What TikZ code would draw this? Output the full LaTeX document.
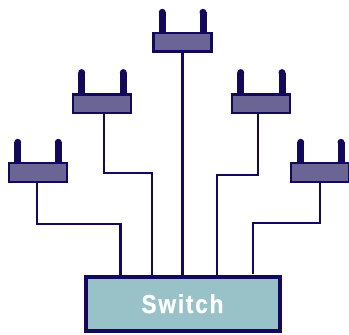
\documentclass[tikz,border=0pt]{standalone}
\usepackage{fontspec}
\setmainfont{Liberation Sans}
\newfontfamily\switchfont[FakeBold=0.6,LetterSpace=8]{Liberation Sans Bold}
\definecolor{navy}{HTML}{14085A}
\definecolor{devfill}{HTML}{6A6595}
\definecolor{swfill}{HTML}{99C2C8}
\tikzset{
  device/.style={draw=navy,fill=devfill,line width=2.3pt,inner sep=0pt,outer sep=0pt,minimum width=58pt,minimum height=18.5pt},
  switchbox/.style={draw=navy,fill=swfill,line width=4pt,inner sep=0pt,outer sep=0pt,minimum width=194pt,minimum height=54pt,
    text=white,font=\switchfont\fontsize{26}{26}\selectfont},
  wire/.style={draw=navy,line width=2.4pt,line join=miter},
  antenna/.style={draw=navy,line width=7pt,line cap=butt}
}
\begin{document}
\begin{tikzpicture}[x=1pt,y=-1pt]
\useasboundingbox (0,0) rectangle (349,335);
\node[switchbox] (sw) at (182.5,304) {\raisebox{0.8pt}{\scalebox{0.87}[1.0]{Switch}}};
\node[device] (top) at (182.5,42.3) {};
\node[device] (l2) at (102,103.8) {};
\node[device] (r2) at (261,103.8) {};
\node[device] (l1) at (37.8,172.5) {};
\node[device] (r1) at (320,172.5) {};
% wires
\coordinate (sa) at (120.3,277);
\coordinate (sb) at (151.7,277);
\coordinate (sc) at (182.4,277);
\coordinate (sd) at (217,277);
\coordinate (se) at (252.7,273.5);
\draw[wire] (top.south -| sc) -- (sc);
\coordinate (l2o) at (103.7,113);
\draw[wire] (l2o) |- (151.7,173) -- (sb);
\coordinate (r2o) at (257.7,113);
\draw[wire] (r2o) |- (217,175) -- (sd);
\coordinate (l1o) at (37,181.5);
\draw[wire] (l1o) |- (120.3,224) -- (sa);
\coordinate (r1o) at (320,181.5);
\draw[wire] (r1o) |- (252.7,222.7) -- (se);
% antennas
\foreach \n/\xa/\xb/\ya in {top/162.3/203/12.3, l2/81.7/123.3/72.6, r2/240.7/282/72.6, l1/17.7/58.3/142.3, r1/300.7/341/142.3}{
  \draw[antenna] (\xa,\ya) -- (\n.north -| \xa,\ya);
  \draw[antenna] (\xb,\ya) -- (\n.north -| \xb,\ya);
  \fill[navy] (\xa,\ya) circle (3.5pt) (\xb,\ya) circle (3.5pt);
}
\end{tikzpicture}
\end{document}
